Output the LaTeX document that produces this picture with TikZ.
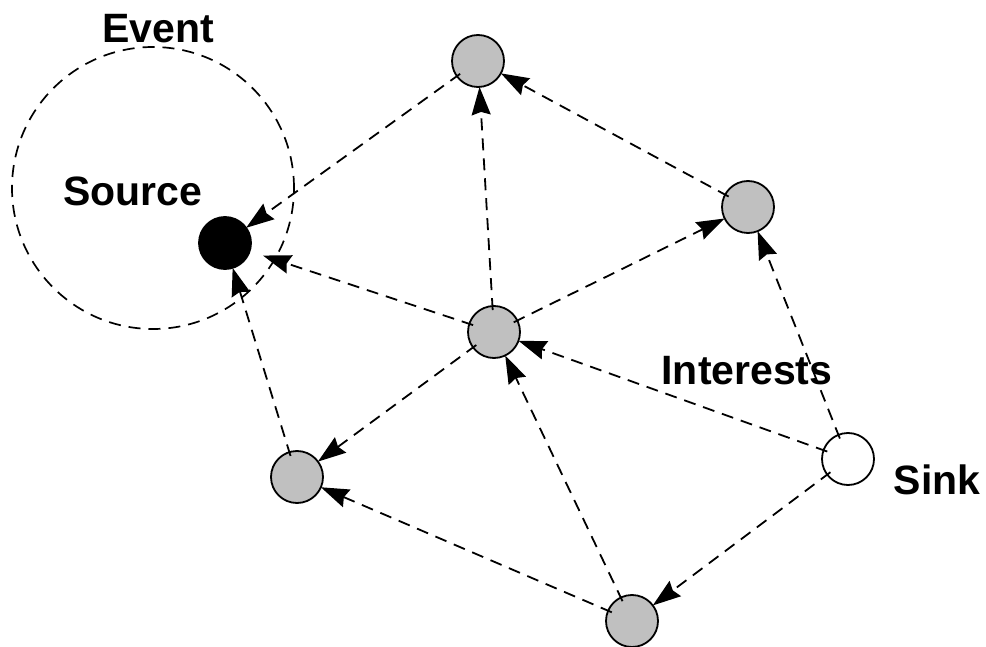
\documentclass[tikz,border=0pt]{standalone}
\usepackage{fontspec}
\setmainfont{Liberation Sans}
\usetikzlibrary{arrows.meta}
\begin{document}
\begin{tikzpicture}[x=1pt,y=-1pt,
  sensor/.style={circle,draw=black,line width=1.8pt,fill=nodegray,minimum size=52pt,inner sep=0pt,outer sep=0pt},
  lbl/.style={font=\fontsize{41}{48}\selectfont\bfseries,inner sep=0pt},
  link/.style={line width=1.8pt,dash pattern=on 12pt off 8pt,-{Stealth[length=28pt,width=19pt,inset=3pt]},shorten <=-4pt}
]
\definecolor{nodegray}{RGB}{192,192,192}
\useasboundingbox (0,0) rectangle (986,647);
% event region
\node[circle,draw,line width=1.7pt,dash pattern=on 12pt off 8pt,minimum size=282pt,inner sep=0pt] (ev) at (153,188) {};
% nodes
\node[sensor,fill=black] (src) at (225,243) {};
\node[sensor] (top) at (478,61) {};
\node[sensor] (rgt) at (748,207) {};
\node[sensor] (cen) at (494,332) {};
\node[sensor] (lb) at (297,477) {};
\node[sensor] (bot) at (632,621) {};
\node[sensor,fill=white] (snk) at (848,459) {};
% labels
\node[lbl] (tev) at (158,29) {Event};
\node[lbl] (tsrc) at (133,191) {Source};
\node[lbl] (tint) at (747,371) {Interests};
\node[lbl] (tsnk) at (937,480) {Sink};
% links
\draw[link] (top) -- (src);
\draw[link] (cen) -- (top);
\draw[link] (rgt) -- (top);
\draw[link] (cen) -- (rgt);
\draw[link,shorten >=14pt] (cen) -- (src);
\draw[link] (snk) -- (rgt);
\draw[link] (snk) -- (cen);
\draw[link] (cen) -- (lb);
\draw[link] (lb) -- (src);
\draw[link] (bot) -- (cen);
\draw[link] (bot) -- (lb);
\draw[link] (snk) -- (bot);
\end{tikzpicture}
\end{document}
